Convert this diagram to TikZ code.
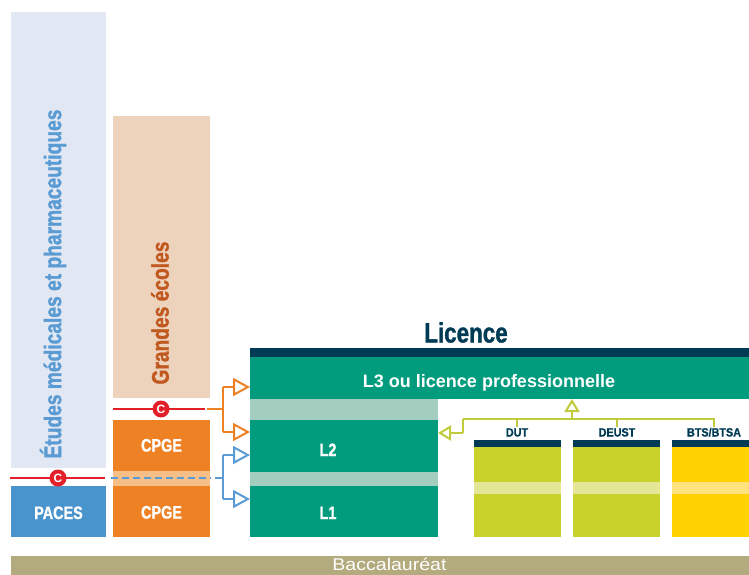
\documentclass[tikz,border=0pt]{standalone}
\usepackage{fontspec}
\setmainfont{Liberation Sans}
\newfontfamily\cnd{Liberation Sans}[FakeStretch=0.8,BoldFeatures={FakeBold=1.2}]
\newfontfamily\cndl{Liberation Sans}[FakeStretch=0.9,BoldFeatures={FakeBold=0.8}]
\newfontfamily\wide{Liberation Sans}[FakeStretch=1.15]
\usetikzlibrary{arrows.meta}
\definecolor{etbg}{HTML}{E1E7F3}
\definecolor{ettx}{HTML}{5A9BD4}
\definecolor{gebg}{HTML}{EDD2BC}
\definecolor{getx}{HTML}{C0581F}
\definecolor{cred}{HTML}{E3202A}
\definecolor{corange}{HTML}{EE8123}
\definecolor{corlight}{HTML}{F7BF88}
\definecolor{cpaces}{HTML}{4A94CE}
\definecolor{cblue}{HTML}{5B9BD5}
\definecolor{cgreen}{HTML}{009C7D}
\definecolor{cgrlight}{HTML}{A3CDBF}
\definecolor{cnavy}{HTML}{003B55}
\definecolor{cyg}{HTML}{C8D22B}
\definecolor{cyglight}{HTML}{E4E698}
\definecolor{cyel}{HTML}{FFD200}
\definecolor{cyellight}{HTML}{FFE37E}
\definecolor{cbac}{HTML}{B3AB7E}
\definecolor{cygline}{HTML}{BFCB3A}
\begin{document}
\begin{tikzpicture}[x=1pt,y=-1pt,
  box/.style={draw=none,inner sep=0pt,outer sep=0pt,anchor=north west},
  wlab/.style={text=white,inner sep=0pt,anchor=base,font=\cnd\bfseries\fontsize{18}{18}\selectfont},
  rlab/.style={inner sep=0pt,rotate=90,font=\cnd\bfseries\fontsize{24}{24}\selectfont},
  slab/.style={text=cnavy,inner sep=0pt,anchor=base,font=\cndl\bfseries\fontsize{12}{12}\selectfont},
  cmark/.style={circle,fill=cred,inner sep=0pt,minimum size=17pt,text=white,font=\bfseries\fontsize{12}{12}\selectfont},
  redline/.style={draw=cred,line width=2pt},
  orline/.style={draw=corange,line width=2pt},
  blline/.style={draw=cblue,line width=2pt},
  ygline/.style={draw=cygline,line width=2pt},
  bigtip/.style={-{Triangle[open,length=17pt,width=18pt]}},
  smalltip/.style={-{Triangle[open,length=13pt,width=15pt]}}
]
\useasboundingbox (0,0) rectangle (749,574);
\clip (0,0) rectangle (749,574);

% left columns
\node[box,fill=etbg,minimum width=95pt,minimum height=456pt] (etudes) at (11,12) {};
\node[rlab,text=ettx] (etudestx) at (53,284) {Études médicales et pharmaceutiques};
\node[box,fill=gebg,minimum width=97pt,minimum height=282pt] (grandes) at (113,116) {};
\node[rlab,text=getx] (grandestx) at (160,313) {Grandes écoles};

\node[box,fill=corange,minimum width=97pt,minimum height=51pt] (cpgeb) at (113,420) {};
\node[box,fill=corlight,minimum width=97pt,minimum height=15pt] (cpgeband) at (113,471) {};
\node[box,fill=corange,minimum width=97pt,minimum height=51pt] (cpgea) at (113,486) {};
\node[box,fill=cpaces,minimum width=95pt,minimum height=51pt] (paces) at (11,486) {};
\node[wlab] (cpgebtx) at (161.5,451.5) {CPGE};
\node[wlab] (cpgeatx) at (161.5,518.5) {CPGE};
\node[wlab] (pacestx) at (58.5,519) {PACES};

% red lines with C marks
\coordinate (r1a) at (113,409);
\coordinate (r1b) at (205,409);
\draw[redline] (r1a) -- (r1b);
\node[cmark] (c1) at (161,409) {C};
\coordinate (r2a) at (10,478);
\coordinate (r2b) at (105,478);
\draw[redline] (r2a) -- (r2b);
\node[cmark] (c2) at (58,478) {C};

% Licence column
\node[box,fill=cnavy,minimum width=499pt,minimum height=9pt] (navy) at (250,348) {};
\node[box,fill=cgreen,minimum width=499pt,minimum height=42pt] (L3) at (250,357) {};
\node[box,fill=cgrlight,minimum width=188pt,minimum height=21pt] (band3) at (250,399) {};
\node[box,fill=cgreen,minimum width=188pt,minimum height=52pt] (L2) at (250,420) {};
\node[box,fill=cgrlight,minimum width=188pt,minimum height=14pt] (band2) at (250,472) {};
\node[box,fill=cgreen,minimum width=188pt,minimum height=51pt] (L1) at (250,486) {};
\node[text=cnavy,inner sep=0pt,anchor=base,font=\cnd\bfseries\fontsize{28}{28}\selectfont] (licence) at (466,342.5) {Licence};
\node[text=white,inner sep=0pt,anchor=base,font=\bfseries\fontsize{18}{18}\selectfont] (L3tx) at (489,387) {L3 ou licence professionnelle};
\node[wlab] (L2tx) at (328,456) {L2};
\node[wlab] (L1tx) at (328,519) {L1};

% DUT / DEUST / BTS
\node[box,fill=cnavy,minimum width=87pt,minimum height=7pt] (duth) at (474,440) {};
\node[box,fill=cyg,minimum width=87pt,minimum height=90pt] (dut) at (474,447) {};
\node[box,fill=cyglight,minimum width=87pt,minimum height=12pt] (dutband) at (474,482) {};
\node[box,fill=cnavy,minimum width=87pt,minimum height=7pt] (deusth) at (573,440) {};
\node[box,fill=cyg,minimum width=87pt,minimum height=90pt] (deust) at (573,447) {};
\node[box,fill=cyglight,minimum width=87pt,minimum height=12pt] (deustband) at (573,482) {};
\node[box,fill=cnavy,minimum width=77pt,minimum height=7pt] (btsh) at (672,440) {};
\node[box,fill=cyel,minimum width=77pt,minimum height=90pt] (bts) at (672,447) {};
\node[box,fill=cyellight,minimum width=77pt,minimum height=12pt] (btsband) at (672,482) {};
\node[slab] (duttx) at (517,436.5) {DUT};
\node[slab] (deusttx) at (617,436.5) {DEUST};
\node[slab] (btstx) at (714,436.5) {BTS/BTSA};

% Baccalaureat
\node[box,fill=cbac,minimum width=738pt,minimum height=30pt] (bac) at (11,556) {};
\node[text=white,inner sep=0pt,anchor=base,font=\wide\fontsize{17}{17}\selectfont] (bactx) at (389.5,570) {Baccalauréat};

% orange bracket
\coordinate (oj) at (223,409);
\coordinate (oa1) at (223,387);
\coordinate (oa2) at (223,432);
\draw[orline] (207,409) -- (oj);
\draw[orline] (oa1) -- (oa2);
\draw[orline,bigtip] (oa1) -- (L3.west |- oa1);
\draw[orline,bigtip] (oa2) -- (L2.west |- oa2);

% blue dashed line and bracket
\coordinate (bj) at (223,478);
\coordinate (ba1) at (223,455);
\coordinate (ba2) at (223,499);
\draw[blline,dash pattern=on 7pt off 4pt] (111,478) -- (211,478);
\draw[blline] (215,478) -- (bj);
\draw[blline] (ba1) -- (ba2);
\draw[blline,bigtip] (ba1) -- (L2.west |- ba1);
\draw[blline,bigtip] (ba2) -- (L1.west |- ba2);

% yellow-green connector
\coordinate (yl) at (463,419);
\coordinate (yr) at (714,419);
\coordinate (yup) at (572,419);
\coordinate (yleft) at (463,433);
\draw[ygline] (yl) -- (yr);
\draw[ygline] (517,418) -- (517,427);
\draw[ygline] (617,418) -- (617,427);
\draw[ygline] (714,418) -- (714,427);
\draw[ygline,smalltip] (yup) -- (L3.south -| yup);
\draw[ygline] (yl) -- (yleft);
\draw[ygline,smalltip] (yleft) -- (L2.east |- yleft);
\end{tikzpicture}
\end{document}
